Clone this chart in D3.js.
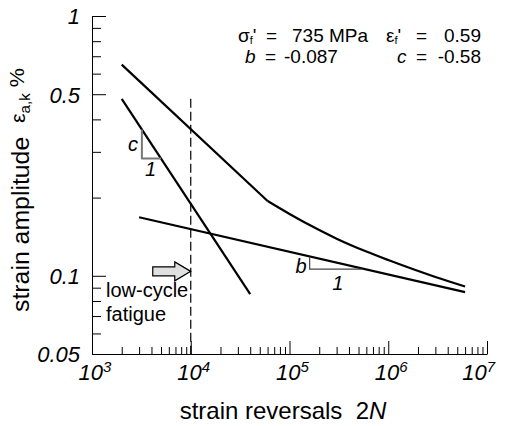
<!DOCTYPE html>
<html><head><meta charset="utf-8">
<script src="https://cdn.jsdelivr.net/npm/d3@7"></script>
<style>body{margin:0;background:#fff} text{font-family:"Liberation Sans",Arial,sans-serif;fill:#000}</style>
</head><body><svg id="c" width="506" height="426"></svg>
<script>
// ---- data ----
const xMajor = [1e3, 1e4, 1e5, 1e6, 1e7];
const xExp = ["3", "4", "5", "6", "7"];
const xMinor = [2e3,3e3,4e3,5e3,6e3,7e3,8e3,9e3,2e4,3e4,4e4,5e4,6e4,7e4,8e4,9e4,2e5,3e5,4e5,5e5,6e5,7e5,8e5,9e5,2e6,3e6,4e6,5e6,6e6,7e6,8e6,9e6];
const yMajor = [1, 0.5, 0.1, 0.05];
const yMajorLabels = ["1", "0.5", "0.1", "0.05"];
const yMinor = [0.06,0.07,0.08,0.09,0.2,0.3,0.4,0.6,0.7,0.8,0.9];
// total strain curve: straight part up to the knee, smooth part after it
const totalN   = [2e3, 6e4, 1e5, 2e5, 3e5, 6e5, 1e6, 3e6, 6e6];
const totalEps = [0.65, 0.194, 0.173, 0.150, 0.139, 0.124, 0.115, 0.099, 0.091];
const plasticN   = [2e3, 4e4];
const plasticEps = [0.48, 0.085];
const elasticN   = [3e3, 6e6];
const elasticEps = [0.168, 0.0865];
const lcfN   = [1e4, 1e4];
const lcfEps = [0.48, 0.05];
const triCN   = [3.2e3, 3.2e3, 5e3];
const triCEps = [0.366, 0.283, 0.283];
const triBN   = [1.6e5, 1.6e5, 5.4e5];
const triBEps = [0.118, 0.106, 0.106];
const arrowN = 1e4, arrowEps = 0.104;

// ---- chart ----
const svg = d3.select("#c");
const x = d3.scaleLog().domain([1e3, 1e7]).range([92, 487]);
const y = d3.scaleLog().domain([0.05, 1]).range([354, 16]);

// axes
const gx = svg.append("g").attr("transform", "translate(0,354)");
gx.call(d3.axisBottom(x).tickValues(xMinor).tickSizeInner(-7).tickSizeOuter(0).tickFormat(""));
const gx2 = svg.append("g").attr("transform", "translate(0,354)");
gx2.call(d3.axisBottom(x).tickValues(xMajor).tickSizeInner(-13).tickSizeOuter(0).tickFormat(""));
gx2.select(".domain").remove();

const gy = svg.append("g").attr("transform", "translate(92,0)");
gy.call(d3.axisLeft(y).tickValues(yMinor).tickSizeInner(-9).tickSizeOuter(0).tickFormat(""));
const gy2 = svg.append("g").attr("transform", "translate(92,0)");
gy2.call(d3.axisLeft(y).tickValues(yMajor).tickSizeInner(-14).tickSizeOuter(0)
  .tickPadding(12).tickFormat((d, i) => yMajorLabels[i]));
gy2.select(".domain").remove();
gy2.selectAll("text").attr("font-family", "Liberation Sans").attr("font-style", "italic")
  .attr("font-size", 22).attr("dy", "0.36em");
svg.selectAll(".tick line, .domain").attr("stroke", "#000").attr("stroke-width", 1);

// x tick labels 10^k
xMajor.forEach((v, i) => {
  const last = i === xMajor.length - 1;
  const t = svg.append("text").attr("x", x(v) + (last ? 8 : 3)).attr("y", 380)
    .attr("text-anchor", last ? "end" : "middle")
    .attr("font-style", "italic").attr("font-size", 22);
  t.append("tspan").text("10");
  t.append("tspan").attr("font-size", 15).attr("dy", -8).text(xExp[i]);
});

// axis titles
const xt = svg.append("text").attr("x", 283).attr("y", 419).attr("text-anchor", "middle").attr("font-size", 24);
xt.append("tspan").text("strain reversals\u00a0\u00a02");
xt.append("tspan").attr("font-style", "italic").text("N");

const yt = svg.append("text").attr("transform", "translate(29,190) rotate(-90)")
  .attr("text-anchor", "middle").attr("font-size", 23)
  .attr("textLength", 244).attr("lengthAdjust", "spacingAndGlyphs");
yt.append("tspan").text("strain amplitude\u00a0\u00a0");
yt.append("tspan").attr("font-size", 20).attr("dy", -4).text("\u03b5");
yt.append("tspan").attr("font-size", 14).attr("dy", 5).text("a,k");
yt.append("tspan").attr("font-size", 20).attr("dy", -6).text("\u00a0%");

// lines
const line = d3.line().x(d => x(d[0])).y(d => y(d[1]));
const smooth = d3.line().x(d => x(d[0])).y(d => y(d[1])).curve(d3.curveMonotoneX);
function draw(ns, es, w, gen) {
  return svg.append("path").datum(ns.map((n, i) => [n, es[i]]))
    .attr("d", gen || line).attr("fill", "none").attr("stroke", "#000").attr("stroke-width", w)
    .attr("stroke-linejoin", "round");
}
draw(lcfN, lcfEps, 1.2).attr("stroke-dasharray", "9,4");
draw(totalN.slice(0, 2), totalEps.slice(0, 2), 2.2);
draw(totalN.slice(1), totalEps.slice(1), 2.2, smooth);
draw(plasticN, plasticEps, 2.2);
draw(elasticN, elasticEps, 2.2);
draw(triCN, triCEps, 2).attr("stroke", "#777");
draw(triBN, triBEps, 1.2).attr("stroke", "#444");

// slope labels
svg.append("text").attr("x", x(triCN[0]) - 4).attr("y", 151).attr("text-anchor", "end")
  .attr("font-style", "italic").attr("font-size", 20).text("c");
svg.append("text").attr("x", (x(triCN[0]) + x(triCN[2])) / 2 - 1).attr("y", 176).attr("text-anchor", "middle")
  .attr("font-style", "italic").attr("font-size", 20).text("1");
svg.append("text").attr("x", x(triBN[0]) - 3).attr("y", 273).attr("text-anchor", "end")
  .attr("font-style", "italic").attr("font-size", 20).text("b");
svg.append("text").attr("x", (x(triBN[0]) + x(triBN[2])) / 2 + 2).attr("y", 290).attr("text-anchor", "middle")
  .attr("font-style", "italic").attr("font-size", 20).text("1");

// arrow
const ax = x(arrowN), ay = y(arrowEps);
svg.append("path").attr("d",
  `M${ax},${ay} L${ax-16},${ay-9.5} L${ax-16},${ay-4.5} L${ax-38},${ay-4.5} L${ax-38},${ay+4.5} L${ax-16},${ay+4.5} L${ax-16},${ay+9.5} Z`)
  .attr("fill", "#e0e0e0").attr("stroke", "#000").attr("stroke-width", 1.2);
svg.append("text").attr("x", 106).attr("y", 297).attr("font-size", 20).text("low-cycle");
svg.append("text").attr("x", 106).attr("y", 321).attr("font-size", 20).text("fatigue");

// parameter block
function txt(xp, yp, anchor) {
  return svg.append("text").attr("x", xp).attr("y", yp).attr("font-size", 19).attr("text-anchor", anchor || "start");
}
let t = txt(238, 42); t.append("tspan").text("\u03c3"); t.append("tspan").attr("font-size", 11).attr("dy", 2).text("f");
t.append("tspan").attr("dy", -2).text("'");
txt(266, 42).text("=");
txt(292, 42).text("735 MPa");
t = txt(386, 42); t.append("tspan").text("\u03b5"); t.append("tspan").attr("font-size", 11).attr("dy", 2).text("f");
t.append("tspan").attr("dy", -2).text("'");
txt(416, 42).text("=");
txt(481, 42, "end").text("0.59");
txt(245, 63).attr("font-style", "italic").text("b");
txt(265, 63).text("=");
txt(284, 63).text("-0.087");
txt(397, 63).attr("font-style", "italic").text("c");
txt(416, 63).text("=");
txt(481, 63, "end").text("-0.58");
</script></body></html>
